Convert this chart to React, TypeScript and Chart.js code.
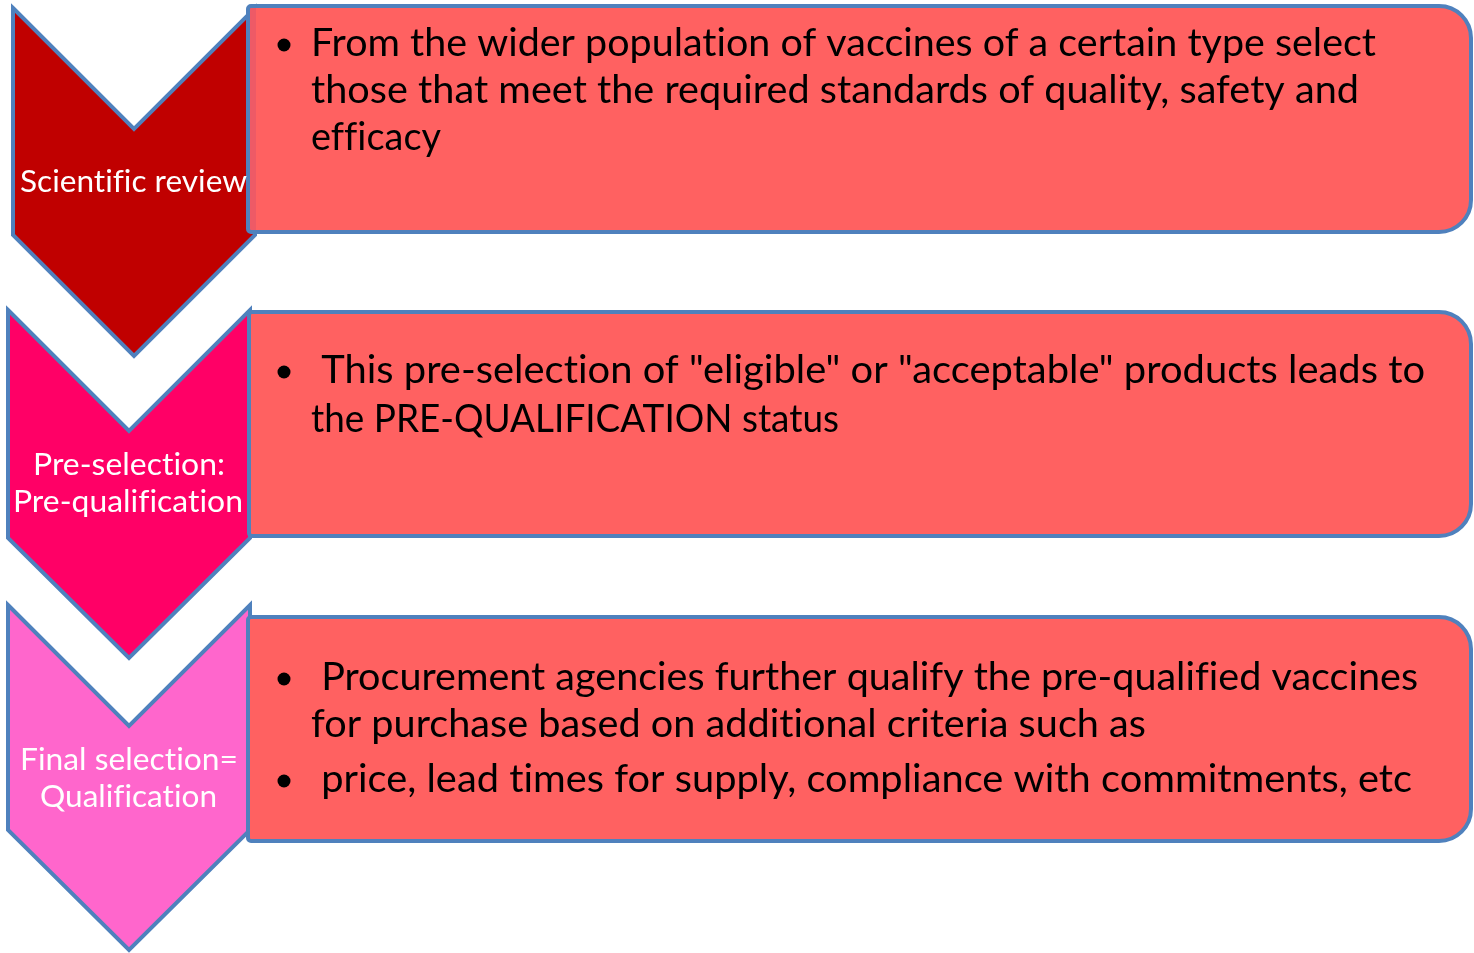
import { useEffect, useRef } from "react";
import { Chart, registerables } from "chart.js";

Chart.register(...registerables);

const W = 1474;
const H = 953;

// ---- content ----
const stepLabels: string[][] = [
  ["Scientific review"],
  ["Pre-selection:", "Pre-qualification"],
  ["Final selection=", "Qualification"],
];
const stepDescriptions: string[][] = [
  [
    "From the wider population of vaccines of a certain type select",
    "those that meet the required standards of quality, safety and",
    "efficacy",
  ],
  [
    " This pre-selection of \"eligible\" or \"acceptable\" products leads to",
    "the PRE-QUALIFICATION status",
  ],
  [
    " Procurement agencies further qualify the pre-qualified vaccines",
    "for purchase based on additional criteria such as",
    " price, lead times for supply, compliance with commitments, etc",
  ],
];
const descBullets: boolean[][] = [
  [true, false, false],
  [true, false],
  [true, false, true],
];

// ---- layout & style ----
const chevronColors = ["#C00000", "#FF0066", "#FF66CC"];
const borderColor = "#4F81BD";
const boxFill = "#FF6161";
const chevronGeom = [
  { l: 13, r: 255, top: 8, notch: 129, shoulder: 235, tip: 356 },
  { l: 8, r: 250, top: 310, notch: 431, shoulder: 538, tip: 658 },
  { l: 8, r: 250, top: 605, notch: 726, shoulder: 830, tip: 950 },
];
const labelCenters = [[133.5], [129, 128], [129, 128.5]];
const labelBaselines = [[192], [475, 512], [770, 807]];
const labelWidths = [[227], [192, 230], [218, 177]];
const boxGeom = [
  { l: 248, t: 6, b: 232 },
  { l: 249, t: 312, b: 536 },
  { l: 248, t: 617, b: 841 },
];
const boxRight = 1471;
const textX = 311;
const bulletX = 284;
const descBaselines = [[56, 103, 150], [383, 432], [690, 737, 792]];
const descWidths = [[1065, 1048, 130], [1114, 528], [1107, 835, 1101]];

const FONT = "Lato, 'Open Sans', 'DejaVu Sans', sans-serif";

function drawScaledText(
  ctx: CanvasRenderingContext2D,
  text: string,
  x: number,
  y: number,
  size: number,
  width: number,
  color: string,
  center: boolean
) {
  // avoid fi / fl / ff / ti ligatures so glyphs look like the original
  const shown = text.replace(/([ft])(?=[ilf])/g, "$1\u200C");
  ctx.save();
  ctx.font = `${size}px ${FONT}`;
  try {
    (ctx as any).letterSpacing = "0.01px";
  } catch (e) {
    /* ignore */
  }
  ctx.fillStyle = color;
  ctx.textBaseline = "alphabetic";
  ctx.textAlign = "left";
  const m = ctx.measureText(shown).width;
  const s = width / m;
  const x0 = center ? x - width / 2 : x;
  ctx.translate(x0, y);
  ctx.scale(s, 1);
  ctx.fillText(shown, 0, 0);
  ctx.restore();
}

const diagramPlugin = {
  id: "diagram",
  beforeDraw(chart: any) {
    const ctx: CanvasRenderingContext2D = chart.ctx;
    const xs = chart.scales.x;
    const ys = chart.scales.y;
    const px = (v: number) => xs.getPixelForValue(v);
    const py = (v: number) => ys.getPixelForValue(v);

    ctx.save();
    ctx.fillStyle = "#ffffff";
    ctx.fillRect(0, 0, chart.width, chart.height);

    // chevrons
    chevronGeom.forEach((g, i) => {
      const cx = (g.l + g.r) / 2;
      ctx.beginPath();
      ctx.moveTo(px(g.l), py(g.top));
      ctx.lineTo(px(cx), py(g.notch));
      ctx.lineTo(px(g.r), py(g.top));
      ctx.lineTo(px(g.r), py(g.shoulder));
      ctx.lineTo(px(cx), py(g.tip));
      ctx.lineTo(px(g.l), py(g.shoulder));
      ctx.closePath();
      ctx.fillStyle = chevronColors[i];
      ctx.fill();
      ctx.lineWidth = 4;
      ctx.lineJoin = "miter";
      ctx.strokeStyle = borderColor;
      ctx.stroke();
    });

    // boxes
    boxGeom.forEach((b, i) => {
      const l = px(b.l), t = py(b.t), r = px(boxRight), bt = py(b.b);
      const R = 32, rl = 3;
      ctx.beginPath();
      ctx.moveTo(l + rl, t);
      ctx.lineTo(r - R, t);
      ctx.arcTo(r, t, r, t + R, R);
      ctx.lineTo(r, bt - R);
      ctx.arcTo(r, bt, r - R, bt, R);
      ctx.lineTo(l + rl, bt);
      ctx.arcTo(l, bt, l, bt - rl, rl);
      ctx.lineTo(l, t + rl);
      ctx.arcTo(l, t, l + rl, t, rl);
      ctx.closePath();
      ctx.fillStyle = boxFill;
      ctx.fill();
      if (i === 0) {
        ctx.fillStyle = "#EE5A66";
        ctx.fillRect(l + 2, t + 2, 6, bt - t - 4);
      }
      ctx.lineWidth = 4;
      ctx.strokeStyle = borderColor;
      ctx.stroke();
    });

    // chevron labels
    stepLabels.forEach((lines, i) => {
      lines.forEach((txt, j) => {
        drawScaledText(
          ctx,
          txt,
          px(labelCenters[i][j]),
          py(labelBaselines[i][j]),
          31,
          labelWidths[i][j],
          "#ffffff",
          true
        );
      });
    });

    // descriptions
    stepDescriptions.forEach((lines, i) => {
      lines.forEach((txt, j) => {
        const base = descBaselines[i][j];
        if (descBullets[i][j]) {
          ctx.beginPath();
          ctx.arc(px(bulletX), py(base - 11), 6.5, 0, Math.PI * 2);
          ctx.fillStyle = "#000000";
          ctx.fill();
        }
        drawScaledText(
          ctx,
          txt,
          px(textX),
          py(base),
          38,
          descWidths[i][j],
          "#000000",
          false
        );
      });
    });
    ctx.restore();
  },
};

export default function App() {
  const ref = useRef<HTMLCanvasElement | null>(null);
  useEffect(() => {
    document.body.style.margin = "0";
    document.body.style.overflow = "hidden";
    const canvas = ref.current;
    if (!canvas) return;
    const chart = new Chart(canvas, {
      type: "scatter",
      data: { datasets: [{ data: [], pointRadius: 0 }] },
      options: {
        animation: false,
        responsive: false,
        events: [],
        layout: { padding: 0 },
        plugins: { legend: { display: false }, tooltip: { enabled: false } },
        scales: {
          x: { type: "linear", min: 0, max: W, display: false },
          y: { type: "linear", min: 0, max: H, reverse: true, display: false },
        },
      },
      plugins: [diagramPlugin],
    });
    return () => chart.destroy();
  }, []);
  return (
    <div style={{ width: W, height: H }}>
      <canvas ref={ref} width={W} height={H} style={{ display: "block" }} />
    </div>
  );
}
